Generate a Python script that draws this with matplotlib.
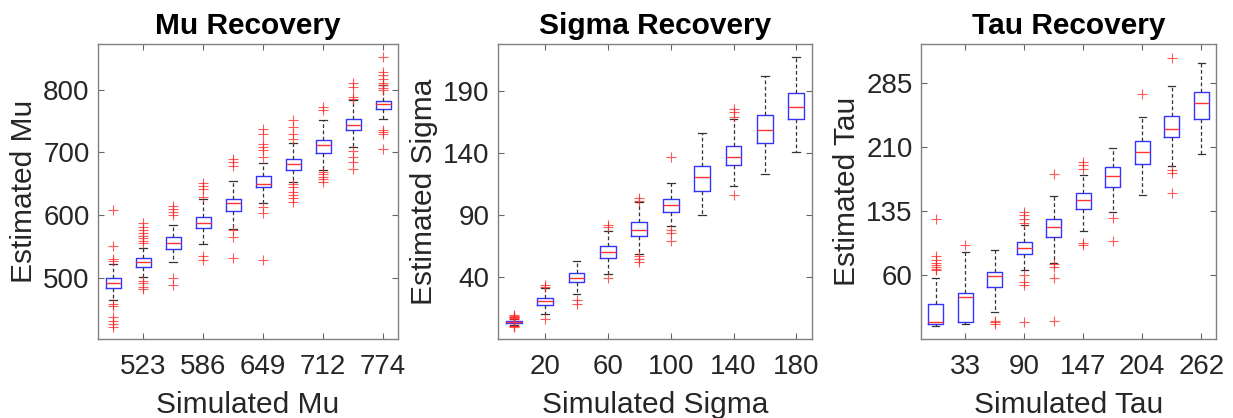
import numpy as np
import matplotlib
matplotlib.use('Agg')
import matplotlib.pyplot as plt

plt.rcParams['font.family'] = ['Liberation Sans', 'DejaVu Sans']

# Mu recovery
mu_sim = [492, 523, 555, 586, 617, 649, 680, 712, 743, 774]
mu_q1 = [483, 516.5, 545.5, 578.5, 606.5, 645, 672, 699.5, 735.5, 770]
mu_med = [492, 524.5, 555, 588, 618.5, 650, 681, 711.5, 744, 777]
mu_q3 = [499, 532, 565.5, 597, 625.5, 662, 689, 720.5, 752.5, 782.5]
mu_lo = [465, 501.5, 524.5, 553, 577.5, 618.5, 653, 672, 709, 752.5]
mu_hi = [521, 548, 584, 625.5, 654, 683.5, 715.5, 751.5, 783.5, 807]
mu_out = [
    [608, 550, 529, 526.5, 458, 455, 437, 431, 426, 421],
    [587, 581.5, 576, 572, 566.5, 563, 559, 555, 495, 491, 485.5, 481.5],
    [614, 609, 604, 599.5, 499, 488],
    [651.5, 646, 641, 629, 534.5, 528],
    [689, 684, 678, 576, 565.5, 532],
    [738, 729, 714, 709, 703, 693, 613, 603, 528],
    [751.5, 741, 730, 722, 649.5, 644, 637, 632, 626.5, 620],
    [772, 767.5, 669, 665.5, 661, 657, 653],
    [811, 805, 789, 784.5, 702.5, 692, 685, 673],
    [852.5, 828.5, 823.5, 816.5, 811, 807.5, 803.5, 799.5, 735.5, 733, 729, 706],
]

# Sigma recovery
sig_sim = [0, 20, 40, 60, 80, 100, 120, 140, 160, 180]
sig_q1 = [2.2, 17, 35.4, 55.4, 73, 92.2, 109.2, 130.5, 148, 167]
sig_med = [3, 20.3, 39.2, 60.3, 77.8, 97.6, 120.5, 136.8, 158.9, 177.3]
sig_q3 = [3.8, 23, 42.7, 64.9, 84, 102.7, 129.7, 145.4, 170.8, 188.7]
sig_lo = [0.8, 9.7, 25.7, 42.2, 58.4, 81, 89.7, 113, 123.3, 140.5]
sig_hi = [5.5, 30.5, 53, 77, 100, 116, 155.7, 167, 202, 217.6]
sig_out = [
    [9, 8, 7.5, 7, 6.5, 6, 0.5, 0, -0.5],
    [33, 31.5, 6],
    [21.5, 18],
    [82, 80, 38.5],
    [103.5, 101.5, 57, 54, 51.5],
    [136.5, 78, 75, 68.5],
    [],
    [175.5, 173, 169, 106],
    [],
    [],
]

# Tau recovery
tau_sim = [5, 33, 62, 90, 119, 147, 176, 204, 233, 262]
tau_q1 = [2.7, 5, 45.5, 84.5, 104.5, 137, 163.5, 190, 221.5, 242.5]
tau_med = [5, 34, 58.5, 91.5, 116, 147.5, 176.5, 204, 231, 262]
tau_q3 = [25.5, 39.5, 64, 98.5, 125.5, 156, 186.5, 217, 246.5, 275]
tau_lo = [0.7, 2.7, 16.5, 66, 74, 112, 134.5, 154, 188, 202.5]
tau_hi = [56.5, 87.5, 89.5, 119, 153, 177.5, 209.5, 245, 281.5, 309]
tau_out = [
    [125.5, 82, 78, 74, 72, 69.5, 67, 65.5],
    [95.5],
    [6, 4.5, 3],
    [134.5, 130.5, 125.5, 121.5, 60.5, 51.5, 48.5, 4.5],
    [179, 73, 69.5, 56.5, 6],
    [193, 189, 184, 98, 95.5],
    [126.5, 99.5],
    [272],
    [315, 183, 180, 156.5],
    [],
]

panels = [
    ('Mu', mu_sim, mu_q1, mu_med, mu_q3, mu_lo, mu_hi, mu_out,
     (402, 873), [500, 600, 700, 800]),
    ('Sigma', sig_sim, sig_q1, sig_med, sig_q3, sig_lo, sig_hi, sig_out,
     (-10.4, 228), [40, 90, 140, 190]),
    ('Tau', tau_sim, tau_q1, tau_med, tau_q3, tau_lo, tau_hi, tau_out,
     (-15, 331), [60, 135, 210, 285]),
]

W, H = 1233, 418
boxes_px = [(98, 398), (498, 812), (921, 1216)]
top_px, bot_px = 44, 339

fig = plt.figure(figsize=(W / 100, H / 100), dpi=100)

for (name, sim, q1, med, q3, lo, hi, out, ylim, yticks), (l, r) in zip(panels, boxes_px):
    ax = fig.add_axes([l / W, 1 - bot_px / H, (r - l) / W, (bot_px - top_px) / H])
    stats = []
    for i in range(len(sim)):
        stats.append({'q1': q1[i], 'med': med[i], 'q3': q3[i],
                      'whislo': lo[i], 'whishi': hi[i], 'fliers': out[i]})
    ax.bxp(stats, positions=np.arange(1, len(sim) + 1), widths=0.5,
           capwidths=0.25, showfliers=True,
           boxprops=dict(color='#3333ff', linewidth=1.0),
           medianprops=dict(color='#ff3333', linewidth=1.0),
           whiskerprops=dict(color='0.2', linewidth=0.9, linestyle=(0, (3, 2))),
           capprops=dict(color='0.2', linewidth=0.9),
           flierprops=dict(marker='+', markeredgecolor='#ff2222',
                           markersize=7, markeredgewidth=0.8, alpha=0.75,
                           linestyle='none'))
    ax.set_xlim(0.5, len(sim) + 0.5)
    ax.set_ylim(*ylim)
    pos = np.arange(1, len(sim) + 1)
    ax.set_xticks(pos[1::2])
    ax.set_xticklabels([str(v) for v in sim[1::2]])
    ax.set_yticks(yticks)
    ax.tick_params(direction='in', top=True, right=True, length=4,
                   width=0.8, color='0.4', labelsize=20, labelcolor='#262626')
    ax.tick_params(axis='x', pad=11)
    ax.tick_params(axis='y', pad=6)
    for s in ax.spines.values():
        s.set_color('0.5')
        s.set_linewidth(1.0)
    ax.set_xlabel(f'Simulated {name}', fontsize=21.5, color='#262626', labelpad=8)
    ax.set_ylabel(f'Estimated {name}', fontsize=21.5, color='#262626', labelpad=4)
    ax.set_title(f'{name} Recovery', fontsize=21.5, fontweight='bold', pad=7)

fig.savefig('out.png', dpi=100)
